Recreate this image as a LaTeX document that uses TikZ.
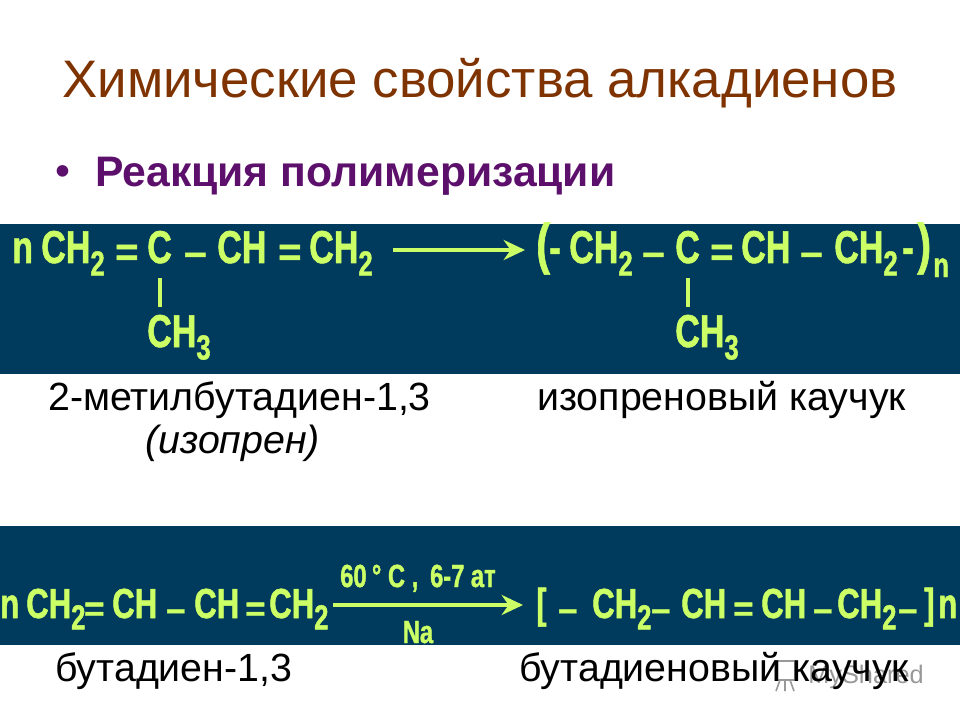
\documentclass[tikz,border=0pt]{standalone}
\usepackage{fontspec}
\usetikzlibrary{arrows.meta}
\setmainfont{Liberation Sans}
\newfontfamily\chemfont[FakeStretch=0.74,FakeBold=1.2]{Liberation Sans Bold}
\newfontfamily\bondfont[FakeBold=1.2]{Liberation Sans Bold}
\definecolor{bandblue}{HTML}{003A5C}
\definecolor{chemgreen}{HTML}{CCFF66}
\definecolor{titlebrown}{HTML}{7F3300}
\definecolor{headpurple}{HTML}{5C0F6B}
\newcommand{\lowtwo}{\raisebox{-0.27em}{\fontsize{26}{26}\selectfont 2}}
\newcommand{\lowthree}{\raisebox{-0.27em}{\fontsize{26}{26}\selectfont 3}}
\tikzset{
  band/.style={fill=bandblue, draw=none},
  chem/.style={text=chemgreen, anchor=base west, inner sep=0pt, font=\chemfont\fontsize{34.5}{36}\selectfont},
  chemb/.style={chem, font=\chemfont\fontsize{31.5}{34}\selectfont},
  bondsym/.style={chem, yshift=-2pt, font=\bondfont\fontsize{30}{32}\selectfont},
  bondsymb/.style={chem, yshift=-2pt, font=\bondfont\fontsize{26}{28}\selectfont},
  cond/.style={text=chemgreen, anchor=base, inner sep=0pt, font=\chemfont\fontsize{24}{26}\selectfont},
  label/.style={anchor=base west, inner sep=0pt, font=\fontsize{29.5}{32}\selectfont},
  rxn/.style={draw=chemgreen, line width=3pt, -{Stealth[length=16pt,width=15pt]}},
  bond/.style={draw=chemgreen, line width=3pt, shorten <=11pt, shorten >=6pt}
}
\begin{document}
\begin{tikzpicture}[x=0.75pt, y=-0.75pt]
\useasboundingbox (0,0) rectangle (960,720);
\fill[white] (0,0) rectangle (960,720);
\node[anchor=base west, inner sep=0pt, text=titlebrown, font=\fontsize{39.6}{42}\selectfont] (title) at (62,98) {Химические свойства алкадиенов};
\node[anchor=base west, inner sep=0pt, text=headpurple, font=\fontsize{32}{34}\selectfont] (bullet) at (55,186) {•};
\node[anchor=base west, inner sep=0pt, text=headpurple, font=\bfseries\fontsize{32}{34}\selectfont] (head) at (95,187) {Реакция полимеризации};
\fill[band] (0,224) rectangle (960,374);
\fill[band] (0,526) rectangle (960,645);
% isoprene
\node[chem] (nA) at (12,263) {n};
\node[chem] (chA) at (41,263) {CH\lowtwo};
\node[bondsym] (eqA) at (115,263) {=};
\node[chem] (cA) at (147,263) {C};
\node[bondsym] (sA) at (184,263) {–};
\node[chem] (cbA) at (217,263) {CH};
\node[bondsym] (eqB) at (278,263) {=};
\node[chem] (chB) at (309,263) {CH\lowtwo};
\node[chem] (meA) at (147,347) {CH\lowthree};
\draw[bond] (cA.south) -- (cA.south |- meA.north);
\coordinate (arrA) at (393,250);
\coordinate (arrB) at (525,250);
\draw[rxn] (arrA) -- (arrB);
\node[chem, font=\chemfont\fontsize{42}{44}\selectfont] (parL) at (536,263) {(};
\node[chem] (sB) at (549,263) {-};
\node[chem] (chC) at (569,263) {CH\lowtwo};
\node[bondsym] (sC) at (642,263) {–};
\node[chem] (cB) at (675,263) {C};
\node[bondsym] (eqC) at (710,263) {=};
\node[chem] (cbB) at (741,263) {CH};
\node[bondsym] (sD) at (800,263) {–};
\node[chem] (chD) at (834,263) {CH\lowtwo};
\node[chem] (sE) at (902,263) {-};
\node[chem, font=\chemfont\fontsize{42}{44}\selectfont] (parR) at (917,263) {)};
\node[chem, font=\chemfont\fontsize{26}{26}\selectfont] (nB) at (933,277) {n};
\node[chem] (meB) at (675,347) {CH\lowthree};
\draw[bond] (cB.south) -- (cB.south |- meB.north);
\node[label] (nameA) at (48,410) {2-метилбутадиен-1,3};
\node[label, font=\itshape\fontsize{29.5}{32}\selectfont] (nameB) at (145,453) {(изопрен)};
\node[label] (nameC) at (537,410) {изопреновый каучук};
% butadiene
\node[chemb] (nC) at (0,618) {n};
\node[chemb] (chE) at (26,618) {CH\lowtwo};
\node[bondsymb] (eqD) at (84,618) {=};
\node[chemb] (cbC) at (112,618) {CH};
\node[bondsymb] (sF) at (166,618) {–};
\node[chemb] (cbD) at (194,618) {CH};
\node[bondsymb] (eqE) at (245,618) {=};
\node[chemb] (chF) at (269,618) {CH\lowtwo};
\coordinate (arrC) at (333,605);
\coordinate (arrD) at (523,605);
\draw[rxn] (arrC) -- (arrD);
\node[cond] (tempA) at (418,587) {60\,° C , \,6-7 ат};
\node[cond] (catA) at (418,643) {Na};
\node[chemb] (brL) at (536,618) {[};
\node[bondsymb] (sG) at (558,618) {–};
\node[chemb] (chG) at (592,618) {CH\lowtwo};
\node[bondsymb] (sH) at (651,618) {–};
\node[chemb] (cbE) at (681,618) {CH};
\node[bondsymb] (eqF) at (733,618) {=};
\node[chemb] (cbF) at (761,618) {CH};
\node[bondsymb] (sI) at (813,618) {–};
\node[chemb] (chH) at (837,618) {CH\lowtwo};
\node[bondsymb] (sJ) at (898,618) {–};
\node[chemb] (brR) at (924,618) {]};
\node[chemb] (nD) at (938,618) {n};
% watermark
\draw[gray!80, line width=1.2pt] (775,661) rectangle (795,680);
\draw[gray!80, line width=1.2pt] (780,680) -- (776,691) (790,680) -- (794,691) (785,680) -- (785,691);
\node[label, text=gray!80, font=\fontsize{19}{22}\selectfont] (mark) at (808,683) {MyShared};
\node[label] (nameD) at (55,681) {бутадиен-1,3};
\node[label] (nameE) at (519,681) {бутадиеновый каучук};
\end{tikzpicture}
\end{document}
